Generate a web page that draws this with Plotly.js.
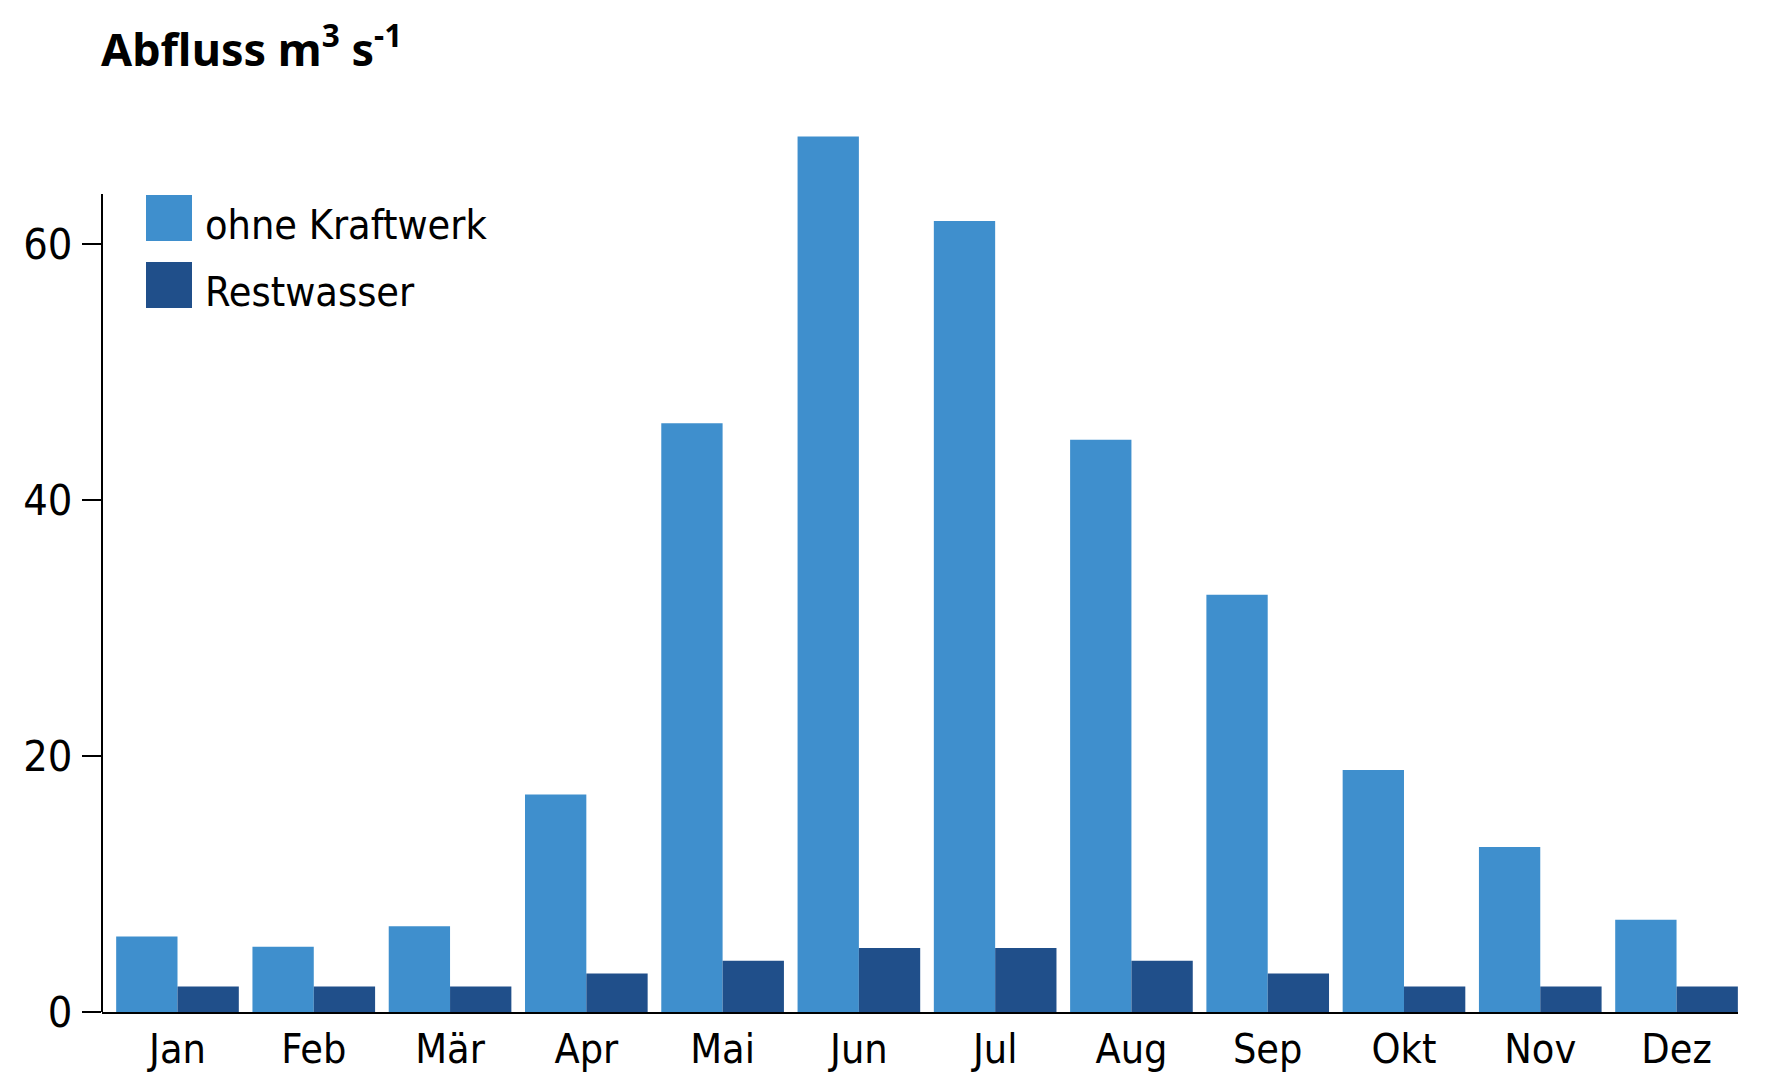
<!DOCTYPE html>
<html>
<head>
<meta charset="utf-8">
<script src="https://cdn.plot.ly/plotly-3.0.1.min.js"></script>
<style>
  html, body { margin: 0; padding: 0; background: #fff; }
  #chart { width: 1773px; height: 1080px; }
</style>
</head>
<body>
<div id="chart"></div>
<script>
const months = ["Jan", "Feb", "Mär", "Apr", "Mai", "Jun", "Jul", "Aug", "Sep", "Okt", "Nov", "Dez"];
const ohneKraftwerk = [5.9, 5.1, 6.7, 17.0, 46.0, 68.4, 61.8, 44.7, 32.6, 18.9, 12.9, 7.2];
const restwasser = [2, 2, 2, 3, 4, 5, 5, 4, 3, 2, 2, 2];
const seriesNames = ["ohne Kraftwerk", "Restwasser"];
const yTicks = [0, 20, 40, 60];

const colors = ["#3f8fcd", "#204f8a"];
const narrow = '"Liberation Sans Narrow", "Arial Narrow", "DejaVu Sans Condensed", sans-serif';

// plot area in pixels
const W = 1773, H = 1080;
const margin = { l: 102, r: 35, t: 116, b: 68 };
const plotW = W - margin.l - margin.r;
const plotH = H - margin.t - margin.b;
const px = x => (x - margin.l) / plotW;
const py = y => (H - margin.b - y) / plotH;

const traces = [
  { type: "bar", name: seriesNames[0], x: months, y: ohneKraftwerk, marker: { color: colors[0] }, hoverinfo: "y" },
  { type: "bar", name: seriesNames[1], x: months, y: restwasser, marker: { color: colors[1] }, hoverinfo: "y" }
];

// custom legend: big squares with labels
const legendShapes = [];
const legendNotes = [];
seriesNames.forEach((name, i) => {
  const top = 195 + i * 67;
  legendShapes.push({
    type: "rect", xref: "paper", yref: "paper",
    x0: px(146), x1: px(192), y0: py(top + 46), y1: py(top),
    fillcolor: colors[i], line: { width: 0 }
  });
  legendNotes.push({
    xref: "paper", yref: "paper", x: px(203), y: py(top + 30),
    xanchor: "left", yanchor: "middle", showarrow: false,
    text: name, font: { family: narrow, size: 41, color: "#000" }
  });
});

const layout = {
  width: W, height: H,
  margin: margin,
  paper_bgcolor: "#fff", plot_bgcolor: "#fff",
  showlegend: false,
  barmode: "group",
  bargap: 0.1,
  bargroupgap: 0,
  title: {
    text: "Abfluss m<sup>3</sup> s<sup>-1</sup>",
    xref: "container", x: 101 / W, xanchor: "left",
    yref: "container", y: 1 - 50 / H, yanchor: "middle",
    font: { family: '"Noto Sans", "Open Sans", sans-serif', size: 45, weight: "bold", color: "#000" }
  },
  xaxis: {
    type: "category",
    range: [-0.554, 11.451],
    showline: true, linecolor: "#000", linewidth: 2,
    ticks: "", showgrid: false, zeroline: false,
    ticklabelstandoff: 0,
    tickfont: { family: narrow, size: 41, color: "#000" },
    fixedrange: true
  },
  yaxis: {
    range: [0, 70],
    tickvals: yTicks,
    ticktext: yTicks.map(String),
    showline: false, showgrid: false, zeroline: false,
    ticks: "outside", ticklen: 19, tickwidth: 2, tickcolor: "#000",
    ticklabelstandoff: 1,
    tickfont: { family: narrow, size: 43, color: "#000" },
    fixedrange: true
  },
  shapes: [
    // y axis line only up to about 64
    { type: "line", xref: "paper", yref: "y", x0: 0, x1: 0, y0: 0, y1: 63.9, line: { color: "#000", width: 2 } }
  ].concat(legendShapes),
  annotations: legendNotes
};

Plotly.newPlot("chart", traces, layout, { displayModeBar: false, staticPlot: true });
</script>
</body>
</html>
